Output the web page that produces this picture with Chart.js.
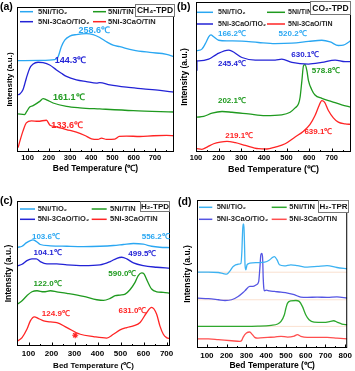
<!DOCTYPE html>
<html>
<head>
<meta charset="utf-8">
<script src="https://cdn.jsdelivr.net/npm/chart.js@4"></script>
<style>
html, body { margin: 0; padding: 0; background: #fff; }
#wrap { position: relative; width: 355px; height: 371px; }
canvas { position: absolute; }
</style>
</head>
<body>
<div id="wrap">
  <canvas id="ca" width="177" height="185" style="left:0;top:0"></canvas>
  <canvas id="cb" width="178" height="185" style="left:177px;top:0"></canvas>
  <canvas id="cc" width="177" height="186" style="left:0;top:185px"></canvas>
  <canvas id="cd" width="178" height="186" style="left:177px;top:185px"></canvas>
</div>
<script>
// series names (same order in every panel)
const seriesNames = ['5Ni/TiO₂', '5Ni-3CaO/TiO₂', '5Ni/TiN', '5Ni-3CaO/TiN'];

// tick labels
const ticksABC = [100, 200, 300, 400, 500, 600, 700];
const ticksD = [100, 200, 300, 400, 500, 600, 700, 800];

// (a) CH4-TPD  -- temperature / intensity (a.u.)
const aTiO2T = [50, 157, 228, 244, 259, 275, 299, 330, 377, 409, 440, 472, 503, 535, 598, 676, 755, 790];
const aTiO2I = [63.0, 63.2, 63.7, 65.8, 72.6, 77.2, 79.9, 81.0, 81.7, 81.0, 79.0, 76.0, 73.7, 72.6, 70.3, 68.7, 67.4, 65.8];
const aCaTiO2T = [55, 63, 78, 94, 110, 126, 149, 173, 204, 236, 259, 283, 330, 377, 425, 440, 488, 566, 645, 724, 790];
const aCaTiO2I = [39.5, 40.0, 42.9, 50.9, 57.8, 60.7, 61.9, 61.6, 60.0, 56.6, 54.3, 52.1, 49.8, 48.6, 47.5, 47.9, 46.3, 44.7, 43.6, 42.5, 41.3];
const aTiNT = [55, 86, 94, 110, 126, 157, 173, 189, 220, 283, 346, 440, 598, 790];
const aTiNI = [26.3, 25.8, 27.5, 31.0, 32.0, 34.9, 36.8, 36.0, 33.8, 31.5, 30.5, 29.7, 28.5, 27.6];
const aCaTiNT = [55, 66, 78, 94, 118, 149, 189, 204, 236, 283, 330, 370, 401, 432, 448, 472, 511, 532, 566, 629, 692, 755, 790];
const aCaTiNI = [3.0, 8.7, 14.4, 20.1, 21.5, 21.2, 21.9, 18.7, 17.4, 15.5, 13.7, 11.4, 9.1, 8.7, 9.6, 8.7, 8.9, 10.7, 11.0, 10.7, 11.2, 11.4, 11.2];
const aPeakText = ['258.6℃', '144.3℃', '161.1℃', '133.6℃'];

// (b) CO2-TPD
const bTiO2T = [104, 126, 144, 156, 166, 178, 200, 244, 303, 376, 450, 524, 597, 656, 693, 729, 751, 774, 785];
const bTiO2I = [67.5, 68.6, 73.0, 76.8, 78.1, 76.8, 74.5, 74.1, 73.9, 73.0, 72.3, 72.6, 73.7, 74.5, 73.4, 71.0, 71.2, 73.2, 74.5];
const bCaTiO2T = [104, 104, 112, 156, 193, 244, 303, 362, 450, 479, 524, 597, 656, 715, 759, 785];
const bCaTiO2I = [54.2, 60.8, 60.8, 61.9, 65.3, 67.9, 63.0, 61.3, 61.3, 61.9, 59.7, 58.6, 59.7, 61.3, 60.2, 60.2];
const bTiNT = [104, 134, 171, 215, 259, 332, 406, 479, 516, 538, 553, 560, 568, 575, 582, 590, 597, 612, 626, 656, 700, 744, 785];
const bTiNI = [23.2, 23.7, 25.9, 27.0, 26.5, 25.4, 24.3, 24.8, 26.5, 29.4, 32.1, 36.5, 47.6, 57.5, 58.2, 54.2, 47.6, 41.4, 38.0, 35.8, 33.6, 31.4, 29.9];
const bCaTiNT = [104, 126, 149, 178, 207, 237, 274, 318, 376, 413, 450, 494, 538, 575, 604, 626, 644, 656, 668, 685, 707, 729, 759, 785];
const bCaTiNI = [2.2, 1.8, 3.3, 5.5, 6.6, 7.1, 6.2, 4.4, 2.2, 2.0, 3.3, 5.5, 10.0, 13.9, 18.4, 24.3, 31.0, 34.3, 33.2, 27.7, 22.8, 19.9, 18.8, 18.4];
const bPeakText = ['166.2℃', '520.2℃', '245.4℃', '630.1℃', '578.8℃', '202.1℃', '219.1℃', '639.1℃'];

// (c) H2-TPD
const cTiO2T = [53, 72, 90, 108, 119, 134, 151, 195, 267, 339, 411, 469, 512, 556, 599, 635, 671, 715];
const cTiO2I = [68.1, 68.8, 71.1, 72.7, 73.2, 72.1, 70.0, 69.1, 68.8, 68.6, 68.8, 69.3, 70.0, 70.7, 70.2, 68.8, 68.1, 67.9];
const cCaTiO2T = [53, 72, 93, 115, 134, 151, 180, 223, 267, 339, 411, 455, 484, 505, 527, 556, 599, 657, 715];
const cCaTiO2I = [55.4, 56.4, 58.9, 60.1, 60.1, 58.2, 56.6, 56.6, 55.9, 55.4, 55.9, 58.2, 60.5, 61.2, 60.1, 57.3, 55.4, 54.3, 53.6];
const cTiNT = [53, 72, 93, 115, 137, 166, 195, 223, 267, 339, 397, 426, 455, 477, 498, 520, 541, 563, 577, 592, 602, 616, 635, 657, 686, 715];
const cTiNI = [28.9, 31.2, 34.7, 37.4, 38.1, 37.4, 38.1, 37.4, 36.3, 34.2, 31.9, 31.4, 32.8, 34.7, 35.1, 35.8, 38.8, 43.9, 48.5, 50.4, 49.7, 45.0, 39.3, 37.4, 37.0, 36.5];
const cCaTiNT = [53, 72, 93, 108, 125, 144, 166, 195, 223, 267, 325, 382, 440, 469, 498, 527, 556, 585, 614, 635, 657, 671, 686, 700, 715];
const cCaTiNI = [3.5, 5.8, 11.5, 17.3, 20.1, 18.9, 17.3, 16.6, 16.2, 12.7, 8.1, 6.5, 5.5, 8.1, 11.1, 12.7, 13.9, 16.2, 23.1, 26.6, 21.9, 13.9, 8.1, 5.8, 5.1];
const cMarkT = [303];
const cMarkI = [7.4];
const cPeakText = ['103.6℃', '556.2℃', '104.1℃', '499.5℃', '590.0℃', '122.0℃', '124.9℃', '631.0℃'];

// (d) H2-TPR
const dTiO2T = [55, 108, 158, 183, 200, 217, 233, 258, 272, 277, 280, 283, 287, 290, 293, 297, 303, 317, 358, 392, 417, 433, 442, 455, 467, 492, 525, 558, 608, 658, 708, 758, 810];
const dTiO2I = [51.2, 51.2, 51.0, 50.3, 49.9, 52.1, 55.1, 56.6, 57.1, 65.2, 76.4, 83.6, 83.6, 71.9, 56.2, 52.8, 56.2, 57.3, 57.7, 58.0, 59.5, 61.3, 61.8, 59.5, 56.2, 55.5, 56.2, 55.7, 54.6, 55.1, 55.7, 54.4, 53.5];
const dCaTiO2T = [55, 108, 158, 192, 225, 258, 292, 317, 333, 350, 362, 368, 373, 378, 382, 385, 388, 392, 400, 417, 442, 475, 508, 542, 575, 608, 658, 708, 758, 810];
const dCaTiO2I = [33.7, 33.3, 32.6, 32.1, 32.6, 34.8, 38.6, 41.6, 41.6, 42.7, 44.9, 53.9, 62.9, 64.0, 60.7, 47.2, 40.4, 38.6, 39.1, 38.6, 38.2, 37.7, 37.1, 36.0, 34.4, 34.2, 34.4, 34.2, 34.6, 33.7];
const dTiNT = [55, 192, 358, 425, 458, 475, 492, 500, 508, 525, 550, 567, 583, 600, 617, 642, 692, 725, 742, 758, 783, 810];
const dTiNI = [14.6, 14.6, 14.8, 15.3, 16.2, 18.0, 22.5, 27.0, 30.3, 31.9, 32.1, 31.5, 28.1, 22.5, 19.1, 17.5, 17.3, 18.0, 18.4, 17.5, 16.2, 15.7];
const dCaTiNT = [55, 108, 158, 225, 267, 275, 283, 300, 317, 328, 342, 358, 408, 442, 475, 508, 542, 558, 575, 608, 658, 708, 758, 810];
const dCaTiNI = [6.1, 6.1, 5.6, 4.9, 4.5, 4.9, 7.2, 10.1, 10.8, 9.4, 7.2, 6.7, 7.2, 7.4, 7.9, 7.4, 8.1, 9.0, 7.9, 7.2, 7.2, 7.2, 6.7, 6.1];
const dBaseline = [51.2, 32.6, 14.6];

const FONT = '"Liberation Sans", Arial, sans-serif';
Chart.defaults.font.family = FONT;
Chart.defaults.color = '#000';

const colsMain = ['#2aa7f2', '#2323d6', '#1f9a1f', '#ff2424'];
const colsD = ['#3cb2f2', '#5555e3', '#2ea82e', '#ff4e4e'];

function pts(T, I) { return T.map((t, k) => ({ x: t, y: I[k] })); }

// frame, inward ticks, panel letter, legend, name box, peak labels
const deco = {
  id: 'deco',
  afterDraw(chart, args, o) {
    const { ctx, chartArea: ca, scales: { x } } = chart;
    const ds = chart.data.datasets;
    ctx.save();
    ctx.strokeStyle = '#000';
    ctx.lineWidth = 1;
    ctx.strokeRect(ca.left + 0.5, ca.top + 0.5, ca.right - ca.left - 1, ca.bottom - ca.top - 1);
    for (let t = Math.ceil(x.min / 50) * 50; t <= x.max; t += 50) {
      const px = Math.round(x.getPixelForValue(t)) + 0.5;
      ctx.beginPath();
      ctx.moveTo(px, ca.bottom);
      ctx.lineTo(px, ca.bottom - (t % 100 === 0 ? 3.5 : 2));
      ctx.stroke();
    }
    ctx.fillStyle = '#000';
    ctx.textBaseline = 'middle';
    ctx.textAlign = 'left';
    ctx.font = 'bold 10.5px ' + FONT;
    ctx.fillText(o.letter, o.letterX, o.letterY);

    // legend (2 columns x 2 rows)
    ctx.font = 'bold ' + o.legSize + 'px ' + FONT;
    for (let i = 0; i < 4; i++) {
      const col = o.legCols[Math.floor(i / 2)];
      const yy = o.legRows[i % 2];
      ctx.strokeStyle = ds[i].borderColor;
      ctx.lineWidth = 1.5;
      ctx.beginPath();
      ctx.moveTo(col[0], yy);
      ctx.lineTo(col[1], yy);
      ctx.stroke();
      ctx.fillStyle = '#222';
      ctx.fillText(ds[i].label, col[2], yy);
    }

    // name box
    const b = o.box;
    ctx.fillStyle = '#fff';
    ctx.fillRect(b[0], b[1], b[2], b[3]);
    ctx.strokeStyle = '#777';
    ctx.lineWidth = 1;
    ctx.strokeRect(b[0] + 0.5, b[1] + 0.5, b[2] - 1, b[3] - 1);
    ctx.fillStyle = '#111';
    ctx.textAlign = 'center';
    ctx.font = 'bold ' + o.boxSize + 'px ' + FONT;
    ctx.fillText(o.boxText, b[0] + b[2] / 2, b[1] + b[3] / 2 + 0.5);

    // peak labels
    ctx.textAlign = 'left';
    ctx.font = 'bold ' + o.peakSize + 'px ' + FONT;
    (o.peaks || []).forEach(p => {
      ctx.fillStyle = ds[p.s].borderColor;
      ctx.fillText(p.text, x.getPixelForValue(p.x), chart.scales.y.getPixelForValue(p.y));
    });
    ctx.restore();
  }
};

function makeChart(id, c) {
  const datasets = c.series.map((s, i) => ({
    label: seriesNames[i],
    data: pts(s[0], s[1]),
    borderColor: c.colors[i],
    borderWidth: 1.3,
    pointRadius: 0,
    cubicInterpolationMode: 'monotone',
    fill: false
  })).concat(c.extra || []);
  return new Chart(document.getElementById(id), {
    type: 'line',
    data: { datasets },
    options: {
      responsive: false,
      animation: false,
      events: [],
      layout: { padding: c.pad },
      plugins: { legend: { display: false }, tooltip: { enabled: false }, deco: c.deco },
      scales: {
        x: {
          type: 'linear', min: c.xmin, max: c.xmax,
          afterBuildTicks: s => { s.ticks = c.ticks.map(v => ({ value: v })); },
          afterFit: s => { s.height = c.xH; },
          ticks: { font: { size: c.tickSize, weight: 'bold' }, padding: c.tickPad, maxRotation: 0, autoSkip: false, color: '#000' },
          grid: { display: false, drawTicks: false },
          border: { display: false },
          title: { display: true, text: 'Bed Temperature (℃)', font: { size: c.titleSize, weight: 'bold' }, color: '#000', padding: { top: 0, bottom: c.titlePad } }
        },
        y: {
          min: 0, max: 100,
          afterFit: s => { s.width = c.yW; },
          ticks: { display: false },
          grid: { display: false, drawTicks: false },
          border: { display: false },
          title: { display: true, text: 'Intensity (a.u.)', font: { size: c.yTitleSize, weight: 'bold' }, color: '#000', padding: { top: c.yTitlePad, bottom: 0 } }
        }
      }
    },
    plugins: [deco]
  });
}

function peaks(texts, xs, ys, s) {
  return texts.map((t, i) => ({ text: t, x: xs[i], y: ys[i], s: s[i] }));
}

makeChart('ca', {
  series: [[aTiO2T, aTiO2I], [aCaTiO2T, aCaTiO2I], [aTiNT, aTiNI], [aCaTiNT, aCaTiNI]],
  colors: colsMain, xmin: 50, xmax: 790, ticks: ticksABC,
  pad: { left: 0, right: 3, top: 7, bottom: 0 }, yW: 17, xH: 33,
  tickSize: 7.5, tickPad: 1, titleSize: 8.5, titlePad: 11.6, yTitleSize: 8, yTitlePad: 5.2,
  deco: {
    letter: '(a)', letterX: 0, letterY: 7,
    legSize: 7.5, legRows: [11.7, 21.7], legCols: [[20, 33, 38], [93, 106, 108]],
    box: [135, 4, 40, 13], boxText: 'CH₄-TPD', boxSize: 8.5, peakSize: 9,
    peaks: peaks(aPeakText, [340, 228, 220, 212], [83.5, 62.8, 37.9, 18.3], [0, 1, 2, 3])
  }
});

makeChart('cb', {
  series: [[bTiO2T, bTiO2I], [bCaTiO2T, bCaTiO2I], [bTiNT, bTiNI], [bCaTiNT, bCaTiNI]],
  colors: colsMain, xmin: 100, xmax: 785, ticks: ticksABC,
  pad: { left: 0, right: 4, top: 2, bottom: 0 }, yW: 19, xH: 33,
  tickSize: 7.5, tickPad: 1.3, titleSize: 9, titlePad: 9.6, yTitleSize: 8.5, yTitlePad: 2.9,
  deco: {
    letter: '(b)', letterX: 0, letterY: 7,
    legSize: 7, legRows: [12.3, 24], legCols: [[20, 36, 41], [90, 108, 111]],
    box: [133, 1, 41, 14], boxText: 'CO₂-TPD', boxSize: 8.5, peakSize: 8,
    peaks: peaks(bPeakText, [197, 465, 197, 521, 612, 197, 229, 579], [78.5, 78.5, 58.6, 64.6, 54.2, 34.3, 11.1, 13.3], [0, 0, 1, 1, 2, 2, 3, 3])
  }
});

makeChart('cc', {
  series: [[cTiO2T, cTiO2I], [cCaTiO2T, cCaTiO2I], [cTiNT, cTiNI], [cCaTiNT, cCaTiNI]],
  colors: colsMain, xmin: 50, xmax: 715, ticks: ticksABC,
  pad: { left: 0, right: 7, top: 16, bottom: 0 }, yW: 17, xH: 25,
  tickSize: 8, tickPad: 3, titleSize: 8, titlePad: 0.5, yTitleSize: 8.5, yTitlePad: 3.2,
  extra: [{ label: 'mark', data: pts(cMarkT, cMarkI), showLine: false, pointStyle: 'star', pointRadius: 3, borderColor: '#ff2424', borderWidth: 1.2 }],
  deco: {
    letter: '(c)', letterX: 0, letterY: 16,
    legSize: 7.5, legRows: [24, 34.3], legCols: [[20, 35, 37.7], [91.7, 106.7, 110]],
    box: [140, 16, 30, 11], boxText: 'H₂-TPD', boxSize: 8, peakSize: 8,
    peaks: peaks(cPeakText, [115, 592, 122, 534, 447, 122, 158, 491], [75.5, 75.1, 64.0, 63.5, 49.7, 42.7, 21.9, 24.3], [0, 0, 1, 1, 2, 2, 3, 3])
  }
});

makeChart('cd', {
  series: [[dTiO2T, dTiO2I], [dCaTiO2T, dCaTiO2I], [dTiNT, dTiNI], [dCaTiNT, dCaTiNI]],
  colors: colsD, xmin: 50, xmax: 810, ticks: ticksD,
  pad: { left: 0, right: 6, top: 15, bottom: 0 }, yW: 20, xH: 23,
  tickSize: 8, tickPad: 3, titleSize: 8.5, titlePad: 0, yTitleSize: 8.5, yTitlePad: 5.6,
  extra: dBaseline.map(v => ({ label: 'base', data: pts([50, 810], [v, v]), borderColor: 'rgba(240,170,120,0.35)', borderWidth: 1, pointRadius: 0 })),
  deco: {
    letter: '(d)', letterX: 1, letterY: 17,
    legSize: 7.5, legRows: [22.3, 34.3], legCols: [[22, 35.3, 39.7], [94.7, 109.7, 112.3]],
    box: [141, 15, 31, 13], boxText: 'H₂-TPR', boxSize: 8, peakSize: 8,
    peaks: []
  }
});
</script>
</body>
</html>
